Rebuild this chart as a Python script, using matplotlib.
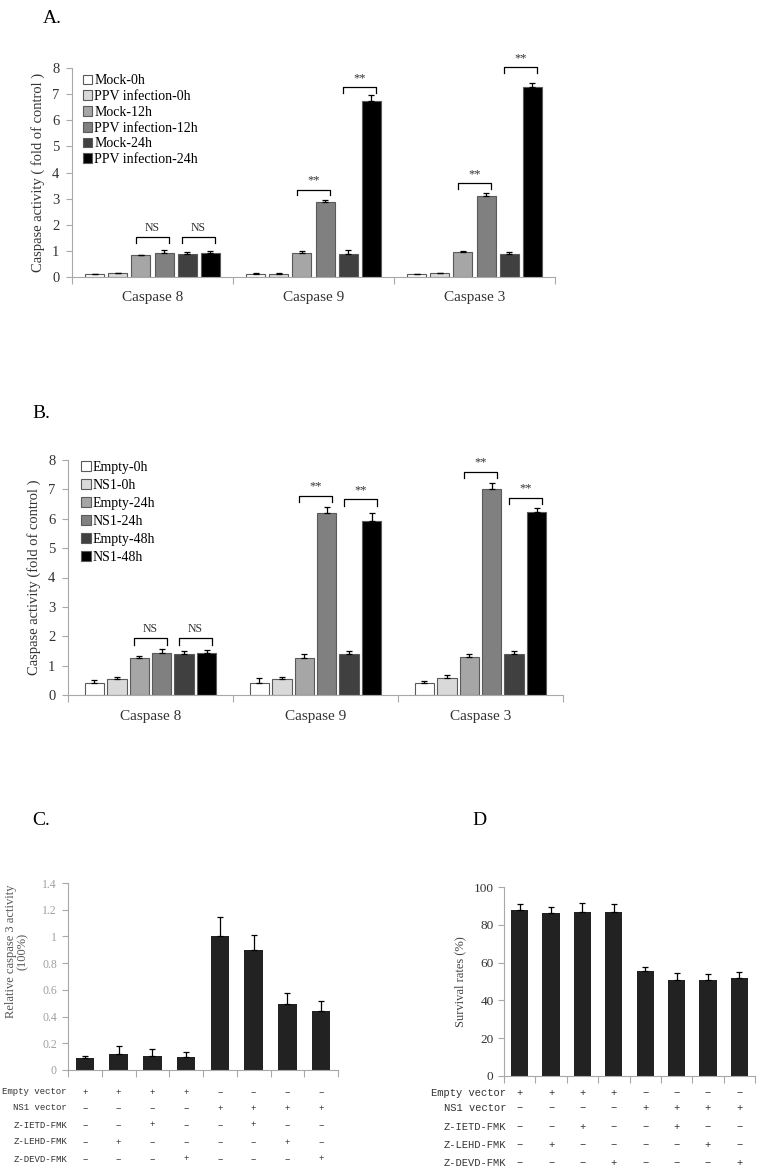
import numpy as np
import matplotlib
matplotlib.use("Agg")
import matplotlib.pyplot as plt
from matplotlib.patches import Patch

plt.rcParams["font.family"] = ["Liberation Serif", "DejaVu Serif"]

# ==========================================
# DATA
# ==========================================

caspases = ["Caspase 8", "Caspase 9", "Caspase 3"]

a_series = ["Mock-0h", "PPV infection-0h", "Mock-12h",
            "PPV infection-12h", "Mock-24h", "PPV infection-24h"]
a_values = [
    [0.11, 0.13, 0.10],
    [0.14, 0.13, 0.14],
    [0.84, 0.92, 0.96],
    [0.90, 2.87, 3.10],
    [0.88, 0.88, 0.88],
    [0.90, 6.75, 7.29],
]
a_errors = [
    [0.01, 0.02, 0.03],
    [0.03, 0.04, 0.03],
    [0.01, 0.06, 0.05],
    [0.12, 0.09, 0.10],
    [0.08, 0.14, 0.07],
    [0.10, 0.20, 0.15],
]
# (category, bar i, bar j, label, bracket height)
a_marks = [(0, 2, 3, "NS", 1.53), (0, 4, 5, "NS", 1.53),
           (1, 2, 3, "**", 3.34), (1, 4, 5, "**", 7.26),
           (2, 2, 3, "**", 3.59), (2, 4, 5, "**", 8.02)]

b_series = ["Empty-0h", "NS1-0h", "Empty-24h", "NS1-24h", "Empty-48h", "NS1-48h"]
b_values = [
    [0.42, 0.42, 0.40],
    [0.53, 0.53, 0.58],
    [1.27, 1.27, 1.30],
    [1.42, 6.19, 7.00],
    [1.41, 1.40, 1.40],
    [1.44, 5.94, 6.22],
]
b_errors = [
    [0.09, 0.15, 0.09],
    [0.09, 0.09, 0.09],
    [0.07, 0.11, 0.10],
    [0.14, 0.20, 0.23],
    [0.09, 0.11, 0.10],
    [0.08, 0.27, 0.14],
]
b_marks = [(0, 2, 3, "NS", 1.93), (0, 4, 5, "NS", 1.93),
           (1, 2, 3, "**", 6.78), (1, 4, 5, "**", 6.66),
           (2, 2, 3, "**", 7.60), (2, 4, 5, "**", 6.71)]

c_values = [0.093, 0.118, 0.105, 0.095, 1.00, 0.895, 0.495, 0.445]
c_errors = [0.012, 0.060, 0.050, 0.043, 0.145, 0.118, 0.085, 0.068]

d_values = [87.8, 86.4, 86.8, 86.9, 55.4, 51.0, 50.6, 51.7]
d_errors = [3.2, 2.8, 4.8, 4.2, 2.3, 3.5, 3.2, 3.4]

treat_rows = ["Empty vector", "NS1 vector", "Z-IETD-FMK", "Z-LEHD-FMK", "Z-DEVD-FMK"]
treat_table = [
    "++++----",
    "----++++",
    "--+--+--",
    "-+----+-",
    "---+---+",
]

# ==========================================
# STYLE
# ==========================================

W, H = 765, 1175
GREYS = ["#ffffff", "#d9d9d9", "#a6a6a6", "#808080", "#404040", "#000000"]
AXIS = "#a8a8a8"
TEXT = "#333333"
BAR = "#222222"
MONO = ["Liberation Mono", "DejaVu Sans Mono"]

fig = plt.figure(figsize=(W / 100, H / 100), dpi=100, facecolor="white")


def px_axes(l, t, r, b):
    return fig.add_axes([l / W, 1 - b / H, (r - l) / W, (b - t) / H])


def style_axes(ax, color=AXIS):
    ax.spines["top"].set_visible(False)
    ax.spines["right"].set_visible(False)
    ax.spines["left"].set_color(color)
    ax.spines["bottom"].set_color(color)
    ax.tick_params(axis="y", which="major", length=4, color=color, width=0.8)
    ax.tick_params(axis="x", which="major", length=0)
    ax.tick_params(axis="x", which="minor", length=5, color=color, width=0.8)


def grouped(ax, series, values, errors, marks, slot, width, pad):
    x = np.arange(len(caspases))
    n = len(series)
    handles = []
    for k in range(n):
        xs = x + (k - (n - 1) / 2) * slot
        ax.bar(xs, values[k], width, color=GREYS[k], edgecolor="#5a5a5a",
               linewidth=0.8, zorder=2)
        ax.errorbar(xs, values[k], yerr=[np.zeros(len(x)), errors[k]],
                    fmt="none", ecolor="black", elinewidth=0.9, capsize=2.5,
                    capthick=0.9, zorder=3)
        handles.append(Patch(facecolor=GREYS[k], edgecolor="#5a5a5a",
                             linewidth=0.8, label=series[k]))
    for cat, i, j, lab, h in marks:
        x0 = cat + (i - (n - 1) / 2) * slot - 0.03
        x1 = cat + (j - (n - 1) / 2) * slot + 0.03
        ax.plot([x0, x0, x1, x1], [h - 0.22, h, h, h - 0.22], color="black",
                lw=0.9, clip_on=False, zorder=4)
        ax.text((x0 + x1) / 2, h + 0.12, lab, ha="center", va="bottom",
                fontsize=8.5 if lab == "NS" else 9, color=TEXT)
    ax.set_xlim(-0.5, len(caspases) - 0.5)
    ax.set_ylim(0, 8)
    ax.set_yticks(range(0, 9))
    ax.set_xticks(x)
    ax.set_xticklabels(caspases, fontsize=11, color=TEXT)
    ax.set_xticks(np.arange(-0.5, len(caspases)), minor=True)
    style_axes(ax)
    ax.tick_params(axis="x", which="major", pad=pad)
    ax.tick_params(axis="y", labelsize=10.5, labelcolor=TEXT, pad=5)
    return handles


# ==========================================
# PANEL A
# ==========================================

ax_a = px_axes(72, 68, 555, 277)
h_a = grouped(ax_a, a_series, a_values, a_errors, a_marks, 0.143, 0.118, 10)
ax_a.set_ylabel("Caspase activity ( fold of control )", fontsize=10.5,
                color=TEXT, labelpad=5)
ax_a.legend(handles=h_a, loc="upper left", bbox_to_anchor=(0.022, 0.97),
            frameon=False, fontsize=10, handlelength=0.7, handleheight=0.7,
            handletextpad=0.15, labelspacing=0.2, borderpad=0,
            borderaxespad=0)
fig.text(43 / W, 1 - 23 / H, "A.", fontsize=14, color="black")

# ==========================================
# PANEL B
# ==========================================

ax_b = px_axes(68, 460, 563, 695)
h_b = grouped(ax_b, b_series, b_values, b_errors, b_marks, 0.136, 0.118, 11)
ax_b.set_ylabel("Caspase activity (fold of control )", fontsize=10.5,
                color=TEXT, labelpad=5)
ax_b.legend(handles=h_b, loc="upper left", bbox_to_anchor=(0.026, 0.995),
            frameon=False, fontsize=10, handlelength=0.7, handleheight=0.7,
            handletextpad=0.15, labelspacing=0.36, borderpad=0,
            borderaxespad=0)
fig.text(32 / W, 1 - 418 / H, "B.", fontsize=14, color="black")


# ==========================================
# PANELS C AND D
# ==========================================

def treatment_table(ax, rows_px, label_px, ax_left, ax_width, ax_bottom,
                    ax_height, fontsize):
    n = len(treat_table[0])
    for r, name in enumerate(treat_rows):
        y = (ax_bottom - rows_px[r]) / ax_height
        ax.text((label_px - ax_left) / ax_width, y, name, transform=ax.transAxes,
                ha="right", va="center", fontsize=fontsize, family=MONO,
                color=TEXT)
        for c in range(n):
            sign = "+" if treat_table[r][c] == "+" else "\u2212"
            ax.text((c + 0.5) / n, y, sign, transform=ax.transAxes,
                    ha="center", va="center", fontsize=fontsize, family=MONO,
                    color=TEXT)


def simple_bars(ax, values, errors):
    x = np.arange(len(values))
    ax.bar(x, values, 0.55, color=BAR, zorder=2)
    ax.errorbar(x, values, yerr=[np.zeros(len(x)), errors], fmt="none",
                ecolor="black", elinewidth=0.9, capsize=2.5, capthick=0.9,
                zorder=3)
    ax.set_xlim(-0.5, len(values) - 0.5)
    ax.set_xticks([])
    ax.set_xticks(np.arange(-0.5, len(values)), minor=True)
    style_axes(ax)


ax_c = px_axes(68, 883, 338, 1070)
simple_bars(ax_c, c_values, c_errors)
ax_c.set_ylim(0, 1.4)
c_ticks = [0, 0.2, 0.4, 0.6, 0.8, 1.0, 1.2, 1.4]
ax_c.set_yticks(c_ticks)
ax_c.set_yticklabels(["0", "0.2", "0.4", "0.6", "0.8", "1", "1.2", "1.4"],
                     fontsize=8.5, color="#a0a0a0")
ax_c.tick_params(axis="y", pad=4)
ax_c.set_ylabel("Relative caspase 3 activity\n(100%)", fontsize=9,
                color="#555555", labelpad=8, linespacing=1.0)
ax_c.yaxis.set_label_coords(-0.145, 0.635)
treatment_table(ax_c, [1092, 1108, 1125, 1142, 1159], 67, 68, 270, 1070,
                187, 6.5)
fig.text(32 / W, 1 - 825 / H, "C.", fontsize=14, color="black")

ax_d = px_axes(504, 887, 755, 1076)
simple_bars(ax_d, d_values, d_errors)
ax_d.set_ylim(0, 100)
ax_d.set_yticks(range(0, 101, 20))
ax_d.tick_params(axis="y", labelsize=9.5, labelcolor=TEXT)
ax_d.set_ylabel("Survival rates (%)", fontsize=9, color="#444444", labelpad=5)
treatment_table(ax_d, [1093, 1108, 1127, 1145, 1163], 506, 504, 251, 1076,
                189, 7.5)
fig.text(472 / W, 1 - 825 / H, "D", fontsize=14, color="black")

fig.savefig("out.png", dpi=100, facecolor="white")
plt.close(fig)
